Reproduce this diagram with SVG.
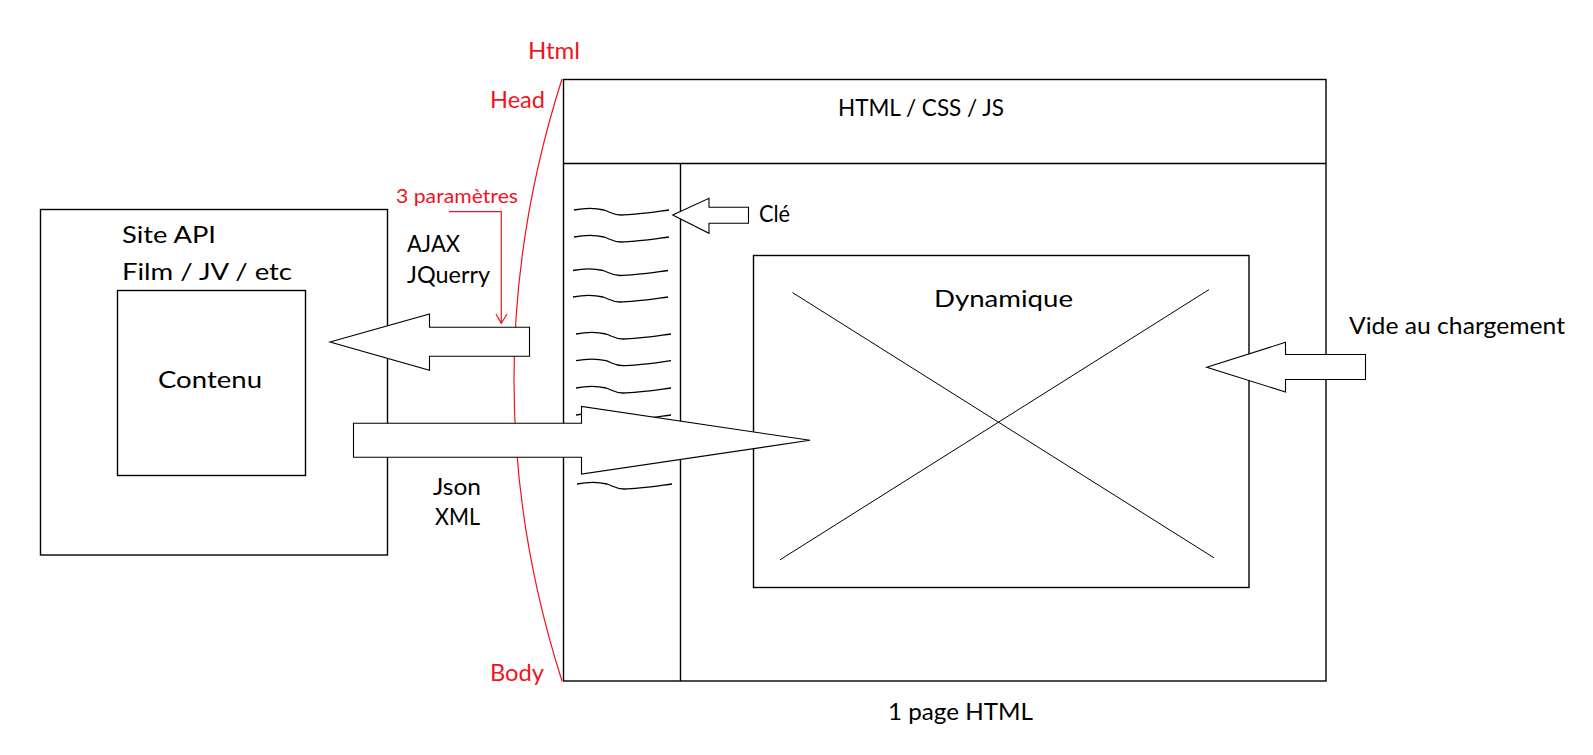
<svg xmlns="http://www.w3.org/2000/svg" width="1593" height="755" viewBox="0 0 1593 755">
  <style>
    .box { fill: none; stroke: #000; stroke-width: 1.4; }
    .thin { fill: none; stroke: #000; stroke-width: 1; }
    .wave { fill: none; stroke: #000; stroke-width: 1.3; }
    .arrow { fill: #fff; stroke: #000; stroke-width: 1.1; stroke-linejoin: miter; }
    .red { fill: none; stroke: #f0141e; stroke-width: 1.2; }
    .t { font-family: Lato, "Open Sans", "Liberation Sans", sans-serif; font-size: 24px; fill: #000; }
    .tr { font-family: Lato, "Open Sans", "Liberation Sans", sans-serif; font-size: 23.5px; fill: #f0141e; }
    .ts { font-size: 19px; }
  </style>
  <defs>
    <path id="wave" d="M0,0 C10,-2 22,-2 30,0 C36,2 39,5 47,5 C62,5 80,2 95,0"/>
  </defs>
  <rect width="1593" height="755" fill="#fff"/>

  <g id="site-api">
    <rect class="box" x="40.5" y="209.5" width="347" height="345.5"/>
    <text class="t" x="122" y="243" textLength="94" lengthAdjust="spacingAndGlyphs">Site API</text>
    <text class="t" x="122" y="280" textLength="170" lengthAdjust="spacingAndGlyphs">Film / JV / etc</text>
  </g>
  <g id="contenu">
    <rect class="box" x="117.5" y="290.5" width="188" height="185"/>
    <text class="t" x="158" y="388" textLength="104" lengthAdjust="spacingAndGlyphs">Contenu</text>
  </g>

  <g id="page">
    <rect class="box" x="563.5" y="79.5" width="762.5" height="601.5"/>
    <text class="t" x="888" y="720" textLength="145" lengthAdjust="spacingAndGlyphs">1 page HTML</text>
  </g>
  <g id="header">
    <line class="box" x1="563.5" y1="163.5" x2="1326" y2="163.5"/>
    <text class="t" x="838" y="116" textLength="166" lengthAdjust="spacingAndGlyphs">HTML / CSS / JS</text>
  </g>
  <g id="sidebar">
    <line class="box" x1="680.5" y1="163.5" x2="680.5" y2="681"/>
    <use href="#wave" class="wave" x="574" y="210"/>
    <use href="#wave" class="wave" x="574" y="237"/>
    <use href="#wave" class="wave" x="573" y="270.5"/>
    <use href="#wave" class="wave" x="573" y="297"/>
    <use href="#wave" class="wave" x="576" y="334"/>
    <use href="#wave" class="wave" x="576" y="360.7"/>
    <use href="#wave" class="wave" x="576" y="388"/>
    <use href="#wave" class="wave" x="576" y="415"/>
    <use href="#wave" class="wave" x="577" y="484"/>
  </g>
  <g id="dynamique">
    <rect class="box" x="753.5" y="255.5" width="495.5" height="332"/>
    <line class="thin" x1="792.5" y1="292.6" x2="1214" y2="557.8"/>
    <line class="thin" x1="1209" y1="289.6" x2="780" y2="559.8"/>
    <text class="t" x="934" y="307" textLength="139" lengthAdjust="spacingAndGlyphs">Dynamique</text>
  </g>

  <g id="html-structure">
    <path class="red" d="M562,79 Q466,380 562,681"/>
    <text class="tr" x="528" y="59" textLength="52" lengthAdjust="spacingAndGlyphs">Html</text>
    <text class="tr" x="490" y="108" textLength="55" lengthAdjust="spacingAndGlyphs">Head</text>
    <text class="tr" x="490" y="681" textLength="54" lengthAdjust="spacingAndGlyphs">Body</text>
  </g>

  <g id="labels">
    <text class="t" x="407" y="252" textLength="53" lengthAdjust="spacingAndGlyphs">AJAX</text>
    <text class="t" x="407" y="283" textLength="83" lengthAdjust="spacingAndGlyphs">JQuerry</text>
    <text class="t" x="433" y="495" textLength="48" lengthAdjust="spacingAndGlyphs">Json</text>
    <text class="t" x="435" y="525" textLength="45" lengthAdjust="spacingAndGlyphs">XML</text>
    <text class="t" x="759" y="222" textLength="31" lengthAdjust="spacingAndGlyphs">Clé</text>
    <text class="t" x="1349" y="334" textLength="216" lengthAdjust="spacingAndGlyphs">Vide au chargement</text>
    <text class="tr ts" x="396" y="203" textLength="122" lengthAdjust="spacingAndGlyphs">3 paramètres</text>
  </g>

  <g id="connectors">
    <path class="red" d="M449,211.7 H501.3 V323"/>
    <path class="red" d="M496,314 L501.3,323.3 L507,314"/>
    <polygon class="arrow" points="330,342 429.5,314 429.5,327.3 529.5,327.3 529.5,356.3 429.5,356.3 429.5,370.3"/>
    <polygon class="arrow" points="353.5,423.3 581.5,423.3 581.5,406.5 810,440.3 581.5,474 581.5,457.3 353.5,457.3"/>
    <polygon class="arrow" points="1206.7,367.3 1285.5,342.3 1285.5,354.5 1365.5,354.5 1365.5,379.5 1285.5,379.5 1285.5,392"/>
    <polygon class="arrow" points="672.7,215 709,198.3 709,207.3 748.5,207.3 748.5,223.3 709,223.3 709,233.3"/>
  </g>
</svg>
